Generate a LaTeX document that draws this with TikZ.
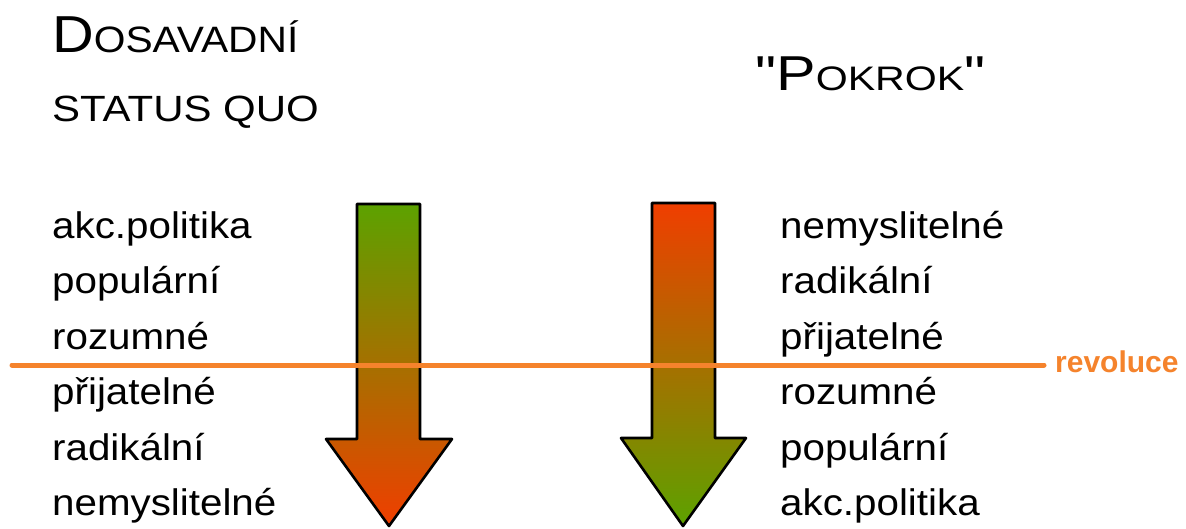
\documentclass[tikz,border=0pt]{standalone}
\usepackage{fontspec}
\setmainfont{Liberation Sans}
\newfontfamily\quotefont{Liberation Sans}
\definecolor{arrgreen}{RGB}{92,162,0}
\definecolor{arrred}{RGB}{240,62,0}
\definecolor{revorange}{RGB}{245,131,44}
\newcommand{\stretchx}[2]{\scalebox{#1}[1]{#2}}
\newcommand{\rowtext}[1]{\stretchx{1.09}{#1}}
\tikzset{
  item/.style={anchor=base west, inner sep=0pt, font=\fontsize{37}{40}\selectfont},
  title/.style={anchor=base west, inner sep=0pt},
  arrowshape/.style={draw=black, line width=2.6pt, line join=round},
  revline/.style={draw=revorange, line width=5pt, line cap=round},
}
\begin{document}
\begin{tikzpicture}[x=1pt,y=-1pt]
\useasboundingbox[fill=white] (0,0) rectangle (1186,528);
% titles
\node[title] (t1) at (52,52) {\stretchx{1.11}{\fontsize{52}{52}\selectfont D\fontsize{36.7}{40}\selectfont OSAVADNÍ}};
\node[title] (t2) at (52,121) {\stretchx{1.15}{\fontsize{36.5}{38}\selectfont STATUS QUO}};
\node[title] (t3) at (755,90) {\stretchx{1.21}{\fontsize{49}{50}\selectfont {\quotefont"}P\fontsize{34}{40}\selectfont OKROK\fontsize{49}{50}\selectfont{\quotefont"}}};
% left column
\node[item] (l1) at (52,238) {\rowtext{akc.politika}};
\node[item] (l2) at (52,293.5) {\rowtext{populární}};
\node[item] (l3) at (52,349) {\rowtext{rozumné}};
\node[item] (l4) at (52,404.5) {\rowtext{přijatelné}};
\node[item] (l5) at (52,460) {\rowtext{radikální}};
\node[item] (l6) at (52,515.5) {\rowtext{nemyslitelné}};
% right column
\node[item] (r1) at (780,238) {\rowtext{nemyslitelné}};
\node[item] (r2) at (780,293.5) {\rowtext{radikální}};
\node[item] (r3) at (780,349) {\rowtext{přijatelné}};
\node[item] (r4) at (780,404.5) {\rowtext{rozumné}};
\node[item] (r5) at (780,460) {\rowtext{populární}};
\node[item] (r6) at (780,515.5) {\rowtext{akc.politika}};
% arrows
\shade[top color=arrgreen, bottom color=arrred]
  (357,204) -- (420,204) -- (420,439) -- (452,439) -- (389,526) -- (326,439) -- (357,439) -- cycle;
\draw[arrowshape]
  (357,204) -- (420,204) -- (420,439) -- (452,439) -- (389,526) -- (326,439) -- (357,439) -- cycle;
\shade[top color=arrred, bottom color=arrgreen]
  (652,203) -- (715,203) -- (715,438) -- (746,438) -- (683,526) -- (621,438) -- (652,438) -- cycle;
\draw[arrowshape]
  (652,203) -- (715,203) -- (715,438) -- (746,438) -- (683,526) -- (621,438) -- (652,438) -- cycle;
% revolution line
\coordinate (ls) at (12,365);
\coordinate (le) at (1044,365);
\draw[revline] (ls) -- (le);
\node[anchor=base west, inner sep=0pt, text=revorange, font=\fontsize{30}{30}\selectfont\bfseries] (rev) at (1055,372) {revoluce};
\end{tikzpicture}
\end{document}
